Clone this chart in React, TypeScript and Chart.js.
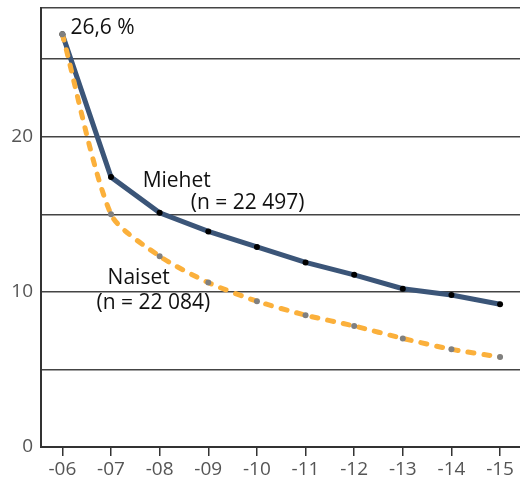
import React, { useEffect, useRef } from "react";
import { Chart, registerables } from "chart.js";

Chart.register(...registerables);

const categories = ["-06", "-07", "-08", "-09", "-10", "-11", "-12", "-13", "-14", "-15"];
const miehet = [26.6, 17.4, 15.1, 13.9, 12.9, 11.9, 11.1, 10.2, 9.8, 9.2];
const naiset = [26.6, 15.0, 12.3, 10.6, 9.4, 8.5, 7.8, 7.0, 6.3, 5.8];
const yGridValues = [0, 5, 10, 15, 20, 25];
const yLabelValues = [0, 10, 20];
const peakLabel = "26,6 %";
const miehetLabel = ["Miehet", "(n = 22 497)"];
const naisetLabel = ["Naiset", "(n = 22 084)"];

const FONT = "'Open Sans', 'DejaVu Sans', sans-serif";

export default function App() {
  const ref = useRef<HTMLCanvasElement | null>(null);

  useEffect(() => {
    if (!ref.current) return;
    const yMax = 28.3;

    const annotationPlugin = {
      id: "textAnnotations",
      afterDatasetsDraw(chart: any) {
        const { ctx, scales } = chart;
        const xs = scales.x;
        const ys = scales.y;
        const items: [string, number, number][] = [
          [peakLabel, 0.165, 27.03],
          [miehetLabel[0], 1.65, 17.13],
          [miehetLabel[1], 2.64, 15.74],
          [naisetLabel[0], 0.93, 10.9],
          [naisetLabel[1], 0.7, 9.29],
        ];
        ctx.save();
        ctx.fillStyle = "#111";
        ctx.font = `21px ${FONT}`;
        ctx.textAlign = "left";
        ctx.textBaseline = "middle";
        for (const [t, x, y] of items) {
          ctx.fillText(t, xs.getPixelForValue(x), ys.getPixelForValue(y));
        }
        ctx.restore();
      },
    };

    const chart = new Chart(ref.current, {
      type: "line",
      data: {
        datasets: [
          {
            label: "Miehet",
            data: miehet.map((v, i) => ({ x: i, y: v })),
            borderColor: "#3b5578",
            borderWidth: 5,
            tension: 0,
            pointRadius: 3,
            pointBorderWidth: 0,
            pointBackgroundColor: "#000",
            order: 2,
          },
          {
            label: "Naiset",
            data: naiset.map((v, i) => ({ x: i, y: v })),
            borderColor: "#fbb03b",
            borderWidth: 5,
            borderDash: [6, 10],
            borderCapStyle: "round",
            tension: 0.25,
            pointRadius: 3,
            pointBorderWidth: 0,
            pointBackgroundColor: "#808080",
            order: 1,
          },
        ],
      },
      options: {
        animation: false,
        responsive: false,
        layout: { autoPadding: false, padding: { top: 8, left: 0, right: 0, bottom: 0 } },
        plugins: {
          legend: { display: false },
          tooltip: { enabled: false },
        },
        scales: {
          x: {
            type: "linear",
            min: -0.44,
            max: 9.41,
            afterBuildTicks: (s: any) => {
              s.ticks = categories.map((_, i) => ({ value: i }));
            },
            afterFit: (s: any) => {
              s.height = 31;
              s.paddingLeft = 0;
              s.paddingRight = 0;
            },
            grid: {
              display: true,
              drawOnChartArea: false,
              drawTicks: true,
              tickLength: 9,
              color: "#333",
              lineWidth: 1.5,
            },
            border: { display: true, color: "#333", width: 2 },
            ticks: {
              padding: 2,
              color: "#555",
              font: { family: FONT, size: 19 },
              maxRotation: 0,
              autoSkip: false,
              callback: (v: any) => categories[Math.round(v)] ?? "",
            },
          },
          y: {
            type: "linear",
            min: 0,
            max: yMax,
            afterBuildTicks: (s: any) => {
              s.ticks = [...yGridValues, yMax].map((v) => ({ value: v }));
            },
            afterFit: (s: any) => {
              s.width = 41;
              s.paddingTop = 0;
              s.paddingBottom = 0;
            },
            grid: {
              display: true,
              drawTicks: false,
              color: "#444",
              lineWidth: 1.4,
            },
            border: { display: true, color: "#333", width: 2 },
            ticks: {
              padding: 8,
              color: "#555",
              font: { family: FONT, size: 19 },
              autoSkip: false,
              callback: (v: any) => (yLabelValues.includes(v) ? String(v) : ""),
            },
          },
        },
      },
      plugins: [annotationPlugin],
    } as any);

    return () => chart.destroy();
  }, []);

  return (
    <div style={{ position: "absolute", left: 0, top: 0, width: 520, height: 478, background: "#fff" }}>
      <canvas ref={ref} width={520} height={478} style={{ display: "block", width: 520, height: 478 }} />
    </div>
  );
}
